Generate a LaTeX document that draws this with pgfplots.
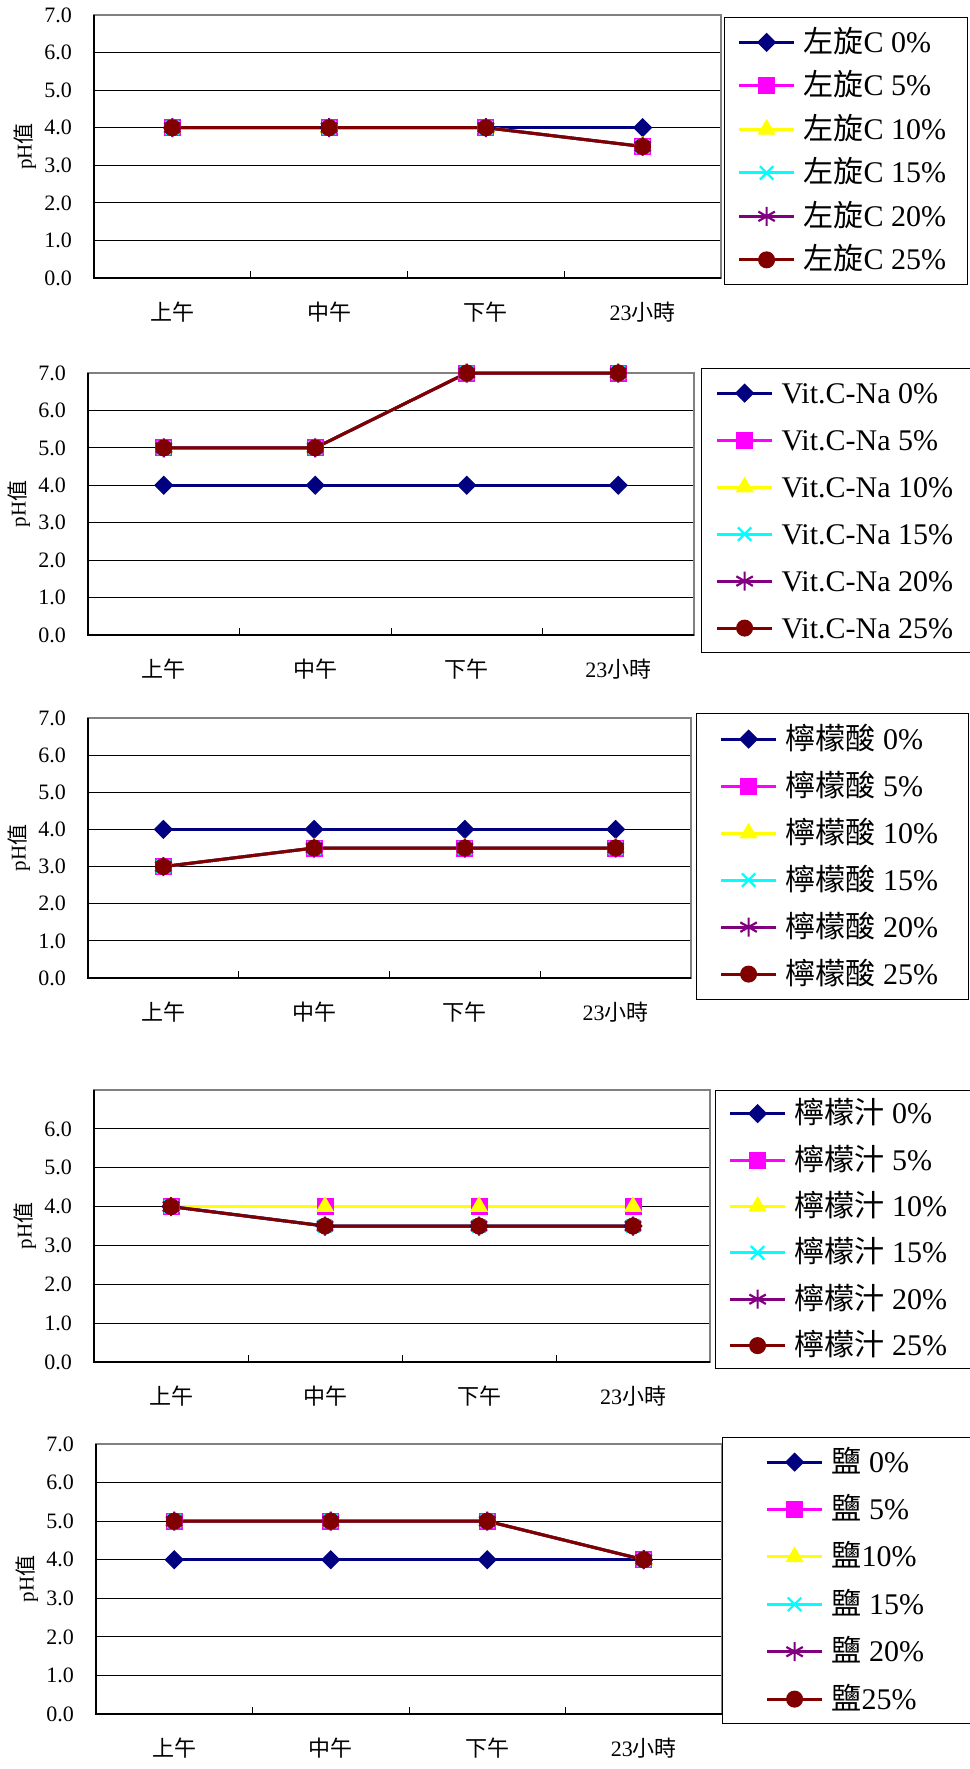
\documentclass[border=0pt]{standalone}
\usepackage{fontspec}
\setmainfont{Liberation Serif}
\newfontfamily\cjk{Noto Sans CJK TC}
\usepackage{pgfplots}
\pgfplotsset{compat=1.18}

\definecolor{sNavy}{RGB}{0,0,128}
\definecolor{sMag}{RGB}{255,0,255}
\definecolor{sYel}{RGB}{255,255,0}
\definecolor{sCyan}{RGB}{0,255,255}
\definecolor{sPurp}{RGB}{128,0,128}
\definecolor{sMar}{RGB}{128,0,0}
\definecolor{frameGray}{RGB}{128,128,128}

\newcommand{\legtxt}[2]{\makebox[#1][l]{#2}}

\pgfplotsset{
  s0/.style={color=sNavy, line width=3pt, mark=square*, mark size=6.3pt, mark options={rotate=45, line width=1pt}},
  s5/.style={color=sMag, line width=3pt, mark=square*, mark size=8pt, mark options={line width=1pt}},
  s10/.style={color=sYel, line width=3pt, mark=triangle*, mark size=9.5pt, mark options={line width=1pt}},
  s15/.style={color=sCyan, line width=3pt, mark=x, mark size=9.5pt, mark options={line width=2.2pt}},
  s20/.style={color=sPurp, line width=3pt, mark=asterisk, mark size=9.5pt, mark options={line width=2.2pt}},
  s25/.style={color=sMar, line width=3pt, mark=*, mark size=8pt, mark options={line width=1pt}},
  phaxis/.style={
    scale only axis, anchor=north west, clip=false,
    xmin=0, xmax=4, ymin=0, ymax=7,
    xtick={1,2,3}, xticklabels={},
    extra x ticks={0.5,1.5,2.5,3.5},
    extra x tick labels={{\cjk 上午},{\cjk 中午},{\cjk 下午},23{\cjk 小時}},
    extra x tick style={tick style={draw=none}},
    ytick={0,...,7},
    major tick length=7pt, tick align=inside,
    xtick pos=left, ytick pos=left,
    tick style={black, line width=0.8pt},
    ymajorgrids,
    major grid style={black, line width=0.8pt},
    axis line style={frameGray, line width=2.5pt},
    /pgf/number format/fixed, /pgf/number format/fixed zerofill,
    /pgf/number format/precision=1, /pgf/number format/assume math mode=true,
    yticklabel={\pgfmathprintnumber{\tick}},
    yticklabel style={font=\fontsize{22}{26}\selectfont, anchor=east, inner sep=0pt, xshift=-22pt},
    xticklabel style={font=\fontsize{22}{26}\selectfont, anchor=center, inner sep=0pt, yshift=-34pt},
    ylabel={pH{\cjk 值}},
    every axis y label/.style={at={(axis description cs:0,0.5)}, xshift=-69pt, rotate=90, anchor=center, font=\fontsize{21}{25}\selectfont},
    legend image code/.code={
      \draw[mark repeat=2, mark phase=2, ##1] plot coordinates {(0pt,0pt) (27.5pt,0pt) (55pt,0pt)};
      \path (63pt,0pt);},
    legend cell align=left,
    legend style={at={(axis description cs:1,1)}, anchor=north west,
      draw=black, line width=1.2pt, fill=white,
      font=\fontsize{30}{36}\selectfont,
      nodes={inner sep=0pt, text height=25pt, text depth=5pt}},
  },
}

\begin{document}
\begin{tikzpicture}
\useasboundingbox (0pt,0pt) rectangle (969pt,-1769pt);

% 1: left-handed vitamin C
\begin{axis}[phaxis, at={(94pt,-15pt)}, width=627pt, height=263pt,
  legend style={xshift=3pt, yshift=-2pt, inner xsep=13pt, inner ysep=9.75pt, row sep=13.5pt}]
  \draw[black, line width=2.2pt] (rel axis cs:0,1) -- (rel axis cs:0,0) -- (rel axis cs:1,0);
  \addplot[s0] coordinates {(0.5,4) (1.5,4) (2.5,4) (3.5,4)};
  \addplot[s5] coordinates {(0.5,4) (1.5,4) (2.5,4) (3.5,3.5)};
  \addplot[s10] coordinates {(0.5,4) (1.5,4) (2.5,4) (3.5,3.5)};
  \addplot[s15] coordinates {(0.5,4) (1.5,4) (2.5,4) (3.5,3.5)};
  \addplot[s20] coordinates {(0.5,4) (1.5,4) (2.5,4) (3.5,3.5)};
  \addplot[s25] coordinates {(0.5,4) (1.5,4) (2.5,4) (3.5,3.5)};
  \legend{\legtxt{151pt}{{\cjk 左旋}C 0\%},\legtxt{151pt}{{\cjk 左旋}C 5\%},\legtxt{151pt}{{\cjk 左旋}C 10\%},
    \legtxt{151pt}{{\cjk 左旋}C 15\%},\legtxt{151pt}{{\cjk 左旋}C 20\%},\legtxt{151pt}{{\cjk 左旋}C 25\%}}
\end{axis}

% 2: sodium ascorbate
\begin{axis}[phaxis, at={(88pt,-373pt)}, width=606pt, height=262pt,
  legend style={xshift=7pt, yshift=5pt, inner xsep=14pt, inner ysep=9.5pt, row sep=17pt}]
  \draw[black, line width=2.2pt] (rel axis cs:0,1) -- (rel axis cs:0,0) -- (rel axis cs:1,0);
  \addplot[s0] coordinates {(0.5,4) (1.5,4) (2.5,4) (3.5,4)};
  \addplot[s5] coordinates {(0.5,5) (1.5,5) (2.5,7) (3.5,7)};
  \addplot[s10] coordinates {(0.5,5) (1.5,5) (2.5,7) (3.5,7)};
  \addplot[s15] coordinates {(0.5,5) (1.5,5) (2.5,7) (3.5,7)};
  \addplot[s20] coordinates {(0.5,5) (1.5,5) (2.5,7) (3.5,7)};
  \addplot[s25] coordinates {(0.5,5) (1.5,5) (2.5,7) (3.5,7)};
  \legend{\legtxt{176pt}{Vit.C-Na 0\%},\legtxt{176pt}{Vit.C-Na 5\%},\legtxt{176pt}{Vit.C-Na 10\%},
    \legtxt{176pt}{Vit.C-Na 15\%},\legtxt{176pt}{Vit.C-Na 20\%},\legtxt{176pt}{Vit.C-Na 25\%}}
\end{axis}

% 3: citric acid
\begin{axis}[phaxis, at={(88pt,-718pt)}, width=603pt, height=260pt,
  legend style={xshift=5pt, yshift=5pt, inner xsep=23pt, inner ysep=10.5pt, row sep=17pt}]
  \draw[black, line width=2.2pt] (rel axis cs:0,1) -- (rel axis cs:0,0) -- (rel axis cs:1,0);
  \addplot[s0] coordinates {(0.5,4) (1.5,4) (2.5,4) (3.5,4)};
  \addplot[s5] coordinates {(0.5,3) (1.5,3.5) (2.5,3.5) (3.5,3.5)};
  \addplot[s10] coordinates {(0.5,3) (1.5,3.5) (2.5,3.5) (3.5,3.5)};
  \addplot[s15] coordinates {(0.5,3) (1.5,3.5) (2.5,3.5) (3.5,3.5)};
  \addplot[s20] coordinates {(0.5,3) (1.5,3.5) (2.5,3.5) (3.5,3.5)};
  \addplot[s25] coordinates {(0.5,3) (1.5,3.5) (2.5,3.5) (3.5,3.5)};
  \legend{\legtxt{160pt}{{\cjk 檸檬酸} 0\%},\legtxt{160pt}{{\cjk 檸檬酸} 5\%},\legtxt{160pt}{{\cjk 檸檬酸} 10\%},
    \legtxt{160pt}{{\cjk 檸檬酸} 15\%},\legtxt{160pt}{{\cjk 檸檬酸} 20\%},\legtxt{160pt}{{\cjk 檸檬酸} 25\%}}
\end{axis}

% 4: lemon juice
\begin{axis}[phaxis, at={(94pt,-1090pt)}, width=616pt, height=272pt, ytick={0,...,6},
  legend style={xshift=5pt, yshift=0pt, inner xsep=13pt, inner ysep=8pt, row sep=16.4pt}]
  \draw[black, line width=2.2pt] (rel axis cs:0,1) -- (rel axis cs:0,0) -- (rel axis cs:1,0);
  \addplot[s0] coordinates {(0.5,4) (1.5,3.5) (2.5,3.5) (3.5,3.5)};
  \addplot[s5] coordinates {(0.5,4) (1.5,4) (2.5,4) (3.5,4)};
  \addplot[s10] coordinates {(0.5,4) (1.5,4) (2.5,4) (3.5,4)};
  \addplot[s15] coordinates {(0.5,4) (1.5,3.5) (2.5,3.5) (3.5,3.5)};
  \addplot[s20] coordinates {(0.5,4) (1.5,3.5) (2.5,3.5) (3.5,3.5)};
  \addplot[s25] coordinates {(0.5,4) (1.5,3.5) (2.5,3.5) (3.5,3.5)};
  \legend{\legtxt{163pt}{{\cjk 檸檬汁} 0\%},\legtxt{163pt}{{\cjk 檸檬汁} 5\%},\legtxt{163pt}{{\cjk 檸檬汁} 10\%},
    \legtxt{163pt}{{\cjk 檸檬汁} 15\%},\legtxt{163pt}{{\cjk 檸檬汁} 20\%},\legtxt{163pt}{{\cjk 檸檬汁} 25\%}}
\end{axis}

% 5: salt
\begin{axis}[phaxis, at={(96pt,-1444pt)}, width=626pt, height=270pt,
  legend style={xshift=0pt, yshift=7pt, inner xsep=43pt, inner ysep=9.5pt, row sep=17.4pt}]
  \draw[black, line width=2.2pt] (rel axis cs:0,1) -- (rel axis cs:0,0) -- (rel axis cs:1,0);
  \addplot[s0] coordinates {(0.5,4) (1.5,4) (2.5,4) (3.5,4)};
  \addplot[s5] coordinates {(0.5,5) (1.5,5) (2.5,5) (3.5,4)};
  \addplot[s10] coordinates {(0.5,5) (1.5,5) (2.5,5) (3.5,4)};
  \addplot[s15] coordinates {(0.5,5) (1.5,5) (2.5,5) (3.5,4)};
  \addplot[s20] coordinates {(0.5,5) (1.5,5) (2.5,5) (3.5,4)};
  \addplot[s25] coordinates {(0.5,5) (1.5,5) (2.5,5) (3.5,4)};
  \legend{\legtxt{96pt}{{\cjk 鹽} 0\%},\legtxt{96pt}{{\cjk 鹽} 5\%},\legtxt{96pt}{{\cjk 鹽}10\%},
    \legtxt{96pt}{{\cjk 鹽} 15\%},\legtxt{96pt}{{\cjk 鹽} 20\%},\legtxt{96pt}{{\cjk 鹽}25\%}}
\end{axis}
\end{tikzpicture}
\end{document}
